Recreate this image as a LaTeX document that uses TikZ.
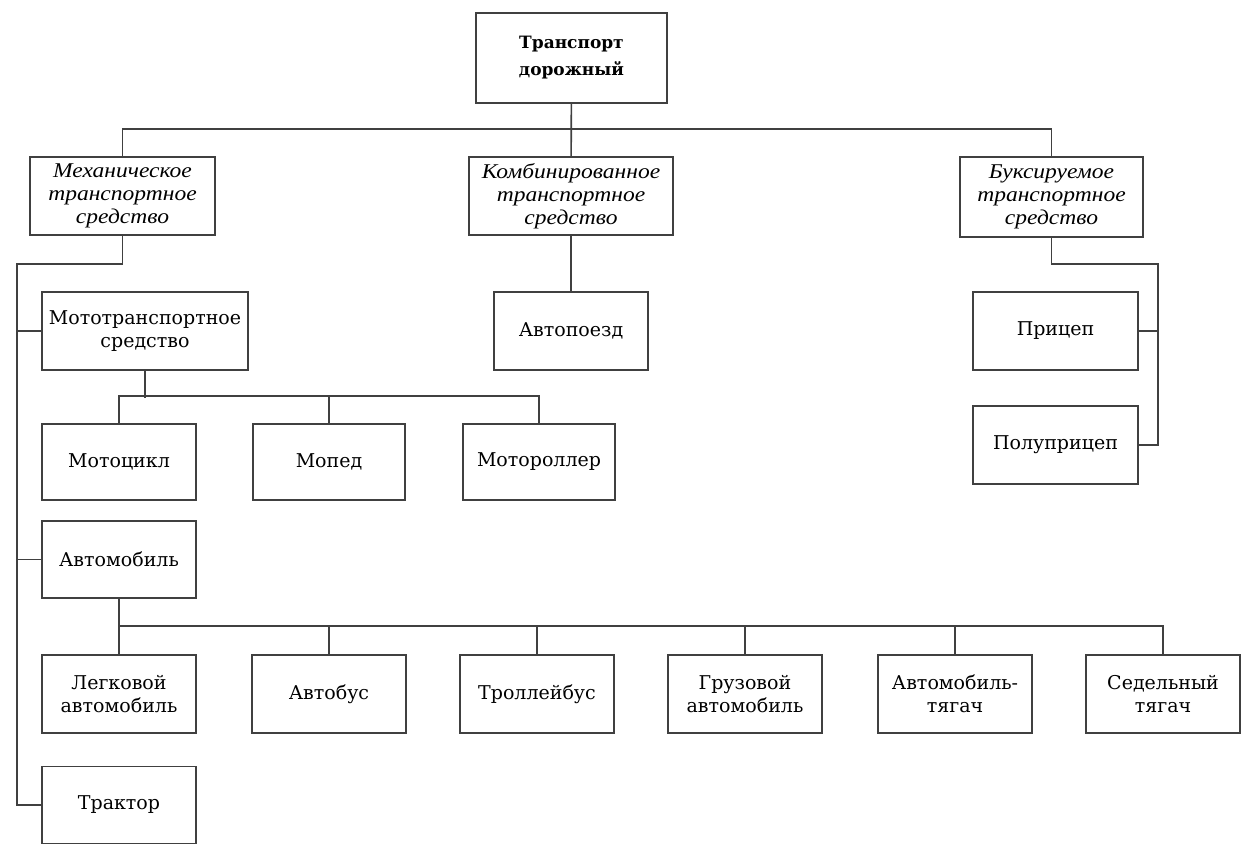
\documentclass[tikz,border=0pt]{standalone}
\usepackage{fontspec}
\setmainfont{DejaVu Serif}
\newfontfamily\kindfont[FakeStretch=1.12]{Liberation Serif}
\usetikzlibrary{positioning,calc}

\tikzset{
	box/.style		= {draw = black!75, line width = 1.6pt, align = center, inner sep = 0pt,
					   minimum width = 154pt, minimum height = 77pt, font = \fontsize{19}{23}\selectfont},
	kind/.style		= {box, font = \fontsize{21}{23}\kindfont\itshape},
	head/.style		= {box, font = \fontsize{17}{27}\selectfont\bfseries},
	link/.style		= {draw = black!75, line width = 1.6pt}
}

\begin{document}
\begin{tikzpicture}[x=1pt,y=-1pt]
		%
		\useasboundingbox (0,0) rectangle (1248,844);
		%
		% top and the three kinds
		\node[head, minimum width = 191pt, minimum height = 90pt] (road) at (571.5,58) {Транспорт\\дорожный};
		\node[kind, minimum width = 185pt, minimum height = 78pt] (mech) at (122.5,196) {Механическое\\транспортное\\средство};
		\node[kind, minimum width = 204pt, minimum height = 78pt] (comb) at (571,196) {Комбинированное\\транспортное\\средство};
		\node[kind, minimum width = 183pt, minimum height = 80pt] (tow) at (1051.5,197) {Буксируемое\\транспортное\\средство};
		%
		% second level
		\node[box, minimum width = 206pt, minimum height = 78pt] (moto) at (145,331) {Мототранспортное\\средство};
		\node[box, minimum height = 78pt] (train) at (571,331) {Автопоезд};
		\node[box, minimum width = 165pt, minimum height = 78pt] (trailer) at (1055.5,331) {Прицеп};
		\node[box, minimum width = 165pt, minimum height = 78pt] (semi) at (1055.5,445) {Полуприцеп};
		%
		% motor vehicles
		\node[box, minimum height = 76pt] (mcycle) at (119,462) {Мотоцикл};
		\node[box, minimum width = 152pt, minimum height = 76pt] (moped) at (329,462) {Мопед};
		\node[box, minimum width = 152pt, minimum height = 76pt] (scooter) at (539,462) {Мотороллер};
		\node[box] (car) at (119,559.5) {Автомобиль};
		%
		% cars
		\node[box, minimum height = 78pt] (pass) at (119,694) {Легковой\\автомобиль};
		\node[box, minimum height = 78pt] (bus) at (329,694) {Автобус};
		\node[box, minimum height = 78pt] (trolley) at (537,694) {Троллейбус};
		\node[box, minimum height = 78pt] (truck) at (745,694) {Грузовой\\автомобиль};
		\node[box, minimum height = 78pt] (tractruck) at (955,694) {Автомобиль-\\тягач};
		\node[box, minimum height = 78pt] (saddle) at (1163,694) {Седельный\\тягач};
		\node[box] (tractor) at (119,805) {Трактор};
		%
		\coordinate (spine) at (17,0);
		\coordinate (rail) at (1158,0);
		%
		% connectors
		\draw[link] (road) -- (comb);
		\draw[link] (mech.north) -- ++(0,-27) -| (tow.north);
		\draw[link] (comb.south) -- (comb.south |- train.north);
		%
		\draw[link] (mech.south) -- ++(0,28) -| (spine |- tractor.west) -- (tractor.west);
		\draw[link] (moto.west) -- (spine |- moto.west);
		\draw[link] (car.west) -- (spine |- car.west);
		%
		\draw[link] (moto.south) -- ++(0,27);
		\draw[link] (mcycle.north) -- ++(0,-27) -| (scooter.north);
		\draw[link] (moped.north) -- ++(0,-27);
		%
		\draw[link] (car) -- (pass);
		\draw[link] (pass.north) -- ++(0,-28) -| (saddle.north);
		\foreach \n in {bus, trolley, truck, tractruck}
			\draw[link] (\n.north) -- ++(0,-28);
		%
		\draw[link] (tow.south) -- ++(0,26) -| (rail |- semi.east) -- (semi.east);
		\draw[link] (trailer.east) -- (rail |- trailer.east);
		%
	\end{tikzpicture}
\end{document}
